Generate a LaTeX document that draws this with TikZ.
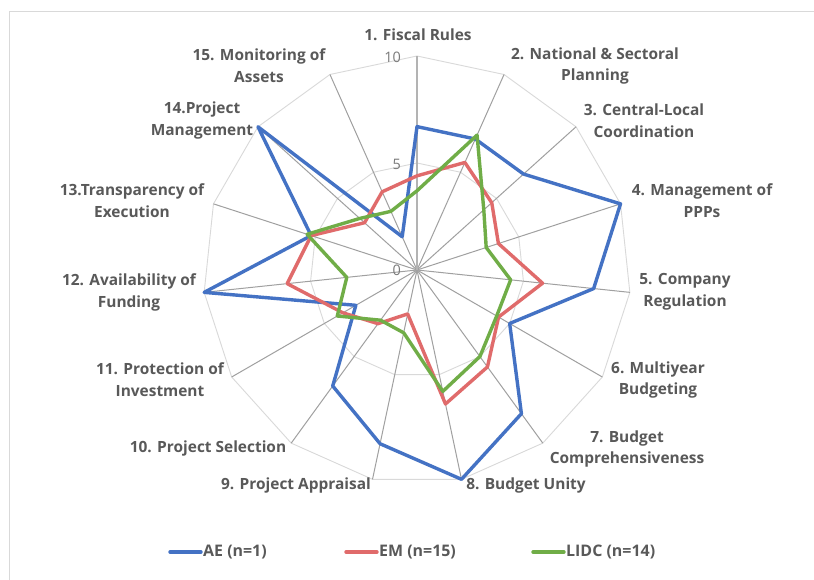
\documentclass[tikz,border=0pt]{standalone}
\usepackage{fontspec}
\setmainfont{Open Sans}
\usetikzlibrary{positioning}

\definecolor{txtgray}{HTML}{595959}
\definecolor{ringgray}{HTML}{D9D9D9}
\definecolor{spokegray}{HTML}{A0A0A0}
\definecolor{aeblue}{HTML}{4472C4}
\definecolor{emred}{HTML}{E06B6B}
\definecolor{lidcgreen}{HTML}{70AD47}

\newcommand{\ru}{21.4}% bp per score unit

\tikzset{
  lbl/.style={font=\bfseries\fontsize{15.5}{22}\selectfont, text=txtgray, align=center},
  leglbl/.style={lbl, anchor=west, inner sep=0pt, font=\bfseries\fontsize{16}{22}\selectfont},
  ticklbl/.style={font=\fontsize{14.5}{16}\selectfont, text=txtgray!80, anchor=east, inner sep=0pt},
  ring/.style={draw=ringgray, line width=0.9bp},
  spoke/.style={draw=spokegray, line width=1bp},
  series/.style={line width=3.4bp, line join=round},
  ae/.style={series, draw=aeblue},
  em/.style={series, draw=emred},
  lidc/.style={series, draw=lidcgreen}
}

\begin{document}
\begin{tikzpicture}[x=1bp, y=1bp]
  \useasboundingbox (0,0) rectangle (814,580);
  \clip (0,0) rectangle (814,580);
  \fill[white] (0,0) rectangle (814,580);
  \draw[ringgray, line width=1bp] (9,568) rectangle (830,-20);

  % grid
  \begin{scope}[shift={(417,310)}]
    \coordinate (c) at (0,0);
    \foreach \r in {5,10}
      \draw[ring] (90:\r*\ru) \foreach \k in {2,...,15}{ -- ({90-(\k-1)*24}:\r*\ru)} -- cycle;
    \foreach \k in {2,...,15}
      \draw[spoke] (c) -- ({90-(\k-1)*24}:10*\ru);
    \draw[spoke, draw=spokegray!80, line width=1.8bp] (c) -- (90:10*\ru);

    % data
    \foreach \v [count=\k] in {6.7,6.7,6.7,10,8.3,5,8.3,10,8.3,6.7,3.3,10,5.2,10,1.7}
      \coordinate (ae-\k) at ({90-(\k-1)*24}:\v*\ru);
    \foreach \v [count=\k] in {4.4,5.5,4.7,4.0,5.9,4.4,5.6,6.4,2.1,3.1,4.0,6.1,5.2,3.3,4.0}
      \coordinate (em-\k) at ({90-(\k-1)*24}:\v*\ru);
    \foreach \v [count=\k] in {3.7,6.9,4.2,3.4,4.4,4.3,5.0,5.8,3.0,2.9,4.3,3.3,5.4,3.6,3.0}
      \coordinate (lidc-\k) at ({90-(\k-1)*24}:\v*\ru);

    \draw[ae] (ae-1) \foreach \k in {2,...,15}{ -- (ae-\k)} -- cycle;
    \draw[em] (em-1) \foreach \k in {2,...,15}{ -- (em-\k)} -- cycle;
    \draw[lidc] (lidc-1) \foreach \k in {2,...,15}{ -- (lidc-\k)} -- cycle;
  \end{scope}

  % scale
  \node[ticklbl] (t10) at (401,523) {10};
  \node[ticklbl] (t5) at (401,416) {5};
  \node[ticklbl] (t0) at (401,310) {0};

  % axis labels
  \node[lbl] (l1) at (418,545) {1. Fiscal Rules};
  \node[lbl] (l2) at (595,514) {2. National \& Sectoral\\Planning};
  \node[lbl] (l3) at (644,459.5) {3. Central-Local\\Coordination};
  \node[lbl] (l4) at (702,379) {4. Management of\\PPPs};
  \node[lbl] (l5) at (685,288) {5. Company\\Regulation};
  \node[lbl] (l6) at (658,200) {6. Multiyear\\Budgeting};
  \node[lbl] (l7) at (627,131) {7. Budget\\Comprehensiveness};
  \node[lbl] (l8) at (526,95) {8. Budget Unity};
  \node[lbl] (l9) at (296,95) {9. Project Appraisal};
  \node[lbl] (l10) at (208,132) {10. Project Selection};
  \node[lbl] (l11) at (160,200) {11. Protection of\\Investment};
  \node[lbl] (l12) at (129,288) {12. Availability of\\Funding};
  \node[lbl] (l13) at (132,379) {13.Transparency of\\Execution};
  \node[lbl] (l14) at (202,459.5) {14.Project\\Management};
  \node[lbl] (l15) at (259,514) {15. Monitoring of\\Assets};

  % legend
  \node[leglbl] (legae) at (203,28) {AE (n=1)};
  \node[leglbl] (legem) at (379,28) {EM (n=15)};
  \node[leglbl] (leglidc) at (566,28) {LIDC (n=14)};
  \draw[ae, line cap=round] (legae.west) ++(-2,0) -- ++(-31,0);
  \draw[em, line cap=round] (legem.west) ++(-2,0) -- ++(-31,0);
  \draw[lidc, line cap=round] (leglidc.west) ++(-2,0) -- ++(-31,0);
\end{tikzpicture}
\end{document}
